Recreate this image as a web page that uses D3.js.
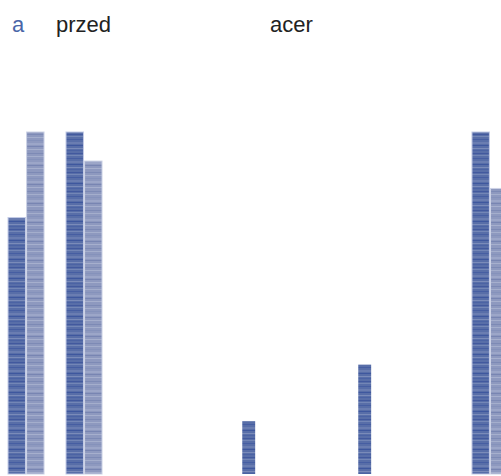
<!DOCTYPE html>
<html>
<head>
<meta charset="utf-8">
<script src="https://cdn.jsdelivr.net/npm/d3@7/dist/d3.min.js"></script>
<style>
  html, body { margin: 0; padding: 0; background: #fff; }
  svg { display: block; }
</style>
</head>
<body>
<svg id="chart" width="501" height="476"></svg>
<script>
const categories = ["1", "2", "3", "4", "5", "6", "7", "8", "9"];
const seriesNames = ["dark", "light"];
const darkValues = [75, 100, 0, 0, 15.5, 0, 32, 0, 100];
const lightValues = [100, 91.5, 0, 0, 0, 0, 0, 0, 83.5];
const legendLabels = ["a", "przed", "acer"];

const W = 501, H = 476;
const svg = d3.select("#chart");
const defs = svg.append("defs");

function stripePattern(id, base, rows) {
  const p = defs.append("pattern")
    .attr("id", id).attr("patternUnits", "userSpaceOnUse")
    .attr("width", 4).attr("height", 19);
  p.append("rect").attr("width", 4).attr("height", 19).attr("fill", base);
  rows.forEach(r => p.append("rect").attr("x", 0).attr("y", r[0])
    .attr("width", 4).attr("height", r[1]).attr("fill", r[2]));
}
stripePattern("pDark", "#586ea8", [
  [1, 1, "#42599e"], [3, 1, "#7386b6"], [6, 1, "#465ea2"], [9, 2, "#6a7db1"],
  [12, 1, "#3e579e"], [15, 1, "#7a8bb9"], [17, 1, "#4b63a4"]
]);
stripePattern("pLight", "#8e99bf", [
  [1, 1, "#7d8ab5"], [4, 1, "#a4aecc"], [7, 1, "#8592bb"], [10, 2, "#9ca6c8"],
  [13, 1, "#7885b2"], [16, 1, "#a6afcd"]
]);

const x = d3.scaleBand().domain(categories).range([-3, 519])
  .paddingInner(0.379).paddingOuter(0.19);
const xs = d3.scaleBand().domain(seriesNames).range([0, x.bandwidth()]).paddingInner(0.06);
const y = d3.scaleLinear().domain([0, 100]).range([474, 132]);

const data = categories.map((c, i) => ({ c, dark: darkValues[i], light: lightValues[i] }));

const g = svg.append("g");
data.forEach(d => {
  const x0 = x(d.c);
  if (d.dark > 0) {
    const full = xs.bandwidth();
    const w = d.light > 0 ? full : full * 0.74;
    const cx = x0 + xs("dark") + full / 2;
    g.append("rect")
      .attr("x", cx - w / 2).attr("width", w)
      .attr("y", y(d.dark)).attr("height", y(0) - y(d.dark))
      .attr("fill", "url(#pDark)")
      .attr("stroke", d.light > 0 ? "#c3cbe6" : "none").attr("stroke-width", 1);
  }
  if (d.light > 0) {
    g.append("rect")
      .attr("x", x0 + xs("light")).attr("width", xs.bandwidth())
      .attr("y", y(d.light)).attr("height", y(0) - y(d.light))
      .attr("fill", "url(#pLight)")
      .attr("stroke", "#cdd3e6").attr("stroke-width", 1);
  }
});

// legend / header texts
const legendX = [12, 56, 270];
const legendColor = ["#4a66a8", "#222", "#222"];
svg.append("g").selectAll("text").data(legendLabels).join("text")
  .attr("x", (d, i) => legendX[i]).attr("y", 32)
  .attr("font-family", "Liberation Sans, Arial, sans-serif")
  .attr("font-size", 22)
  .attr("fill", (d, i) => legendColor[i])
  .text(d => d);
</script>
</body>
</html>
